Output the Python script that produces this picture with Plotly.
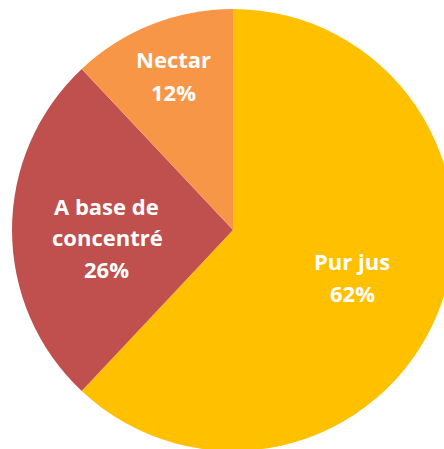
import plotly.graph_objects as go

labels = ["Pur jus", "A base de concentré", "Nectar"]
values = [62, 26, 12]
colors = ["#FFC000", "#C0504D", "#F79646"]

# label text lines and their pixel anchor positions (center x, cap-center y)
label_lines = [
    ("Pur jus", 352, 261), ("62%", 352, 293),
    ("A base de", 106, 206), ("concentré", 107, 237), ("26%", 106, 269),
    ("Nectar", 173, 59), ("12%", 173, 92),
]

L, T, R = 12, 9, 221  # pie box
W, H = L + 2 * R, T + 2 * R

fig = go.Figure(go.Pie(
    labels=labels, values=values, sort=False, direction="clockwise", rotation=0,
    marker=dict(colors=colors, line=dict(width=0)),
    textinfo="none", hoverinfo="label+percent", showlegend=False,
))

ann = []
for txt, px, py in label_lines:
    ann.append(dict(
        x=(px - L) / (2 * R), y=1 - (py - T) / (2 * R), xref="paper", yref="paper",
        text="<b>" + txt + "</b>", showarrow=False, xanchor="center", yanchor="middle",
        font=dict(family="Open Sans", size=22, color="white"),
    ))

fig.update_layout(
    width=W, height=H, margin=dict(l=L, t=T, r=0, b=0, pad=0),
    paper_bgcolor="white", plot_bgcolor="white", annotations=ann,
)

fig.write_html("out.html", config={"displayModeBar": False}, post_script=(
    "document.body.style.margin='0';"
    "document.documentElement.style.overflow='hidden';"
    "document.body.style.overflow='hidden';"
))
